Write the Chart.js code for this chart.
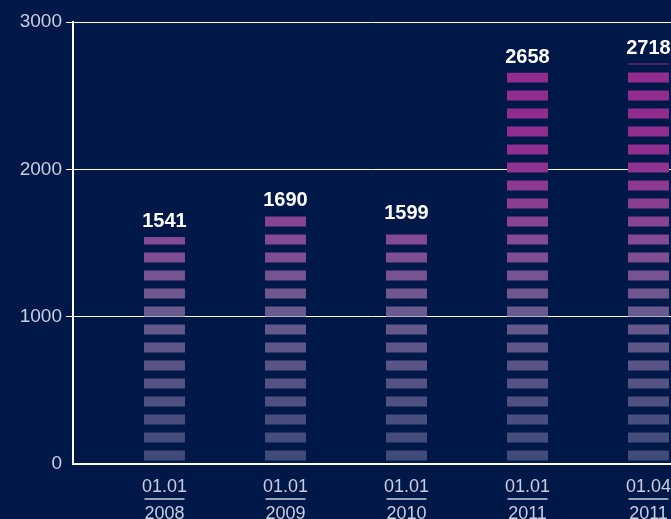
<!DOCTYPE html>
<html>
<head>
<meta charset="utf-8">
<script src="https://cdn.jsdelivr.net/npm/chart.js@4/dist/chart.umd.min.js"></script>
<style>
  html, body { margin: 0; padding: 0; background: #001848; overflow: hidden; }
  #wrap { width: 671px; height: 519px; }
</style>
</head>
<body>
<div id="wrap"><canvas id="chart" width="671" height="519"></canvas></div>
<script>
// data
const dates = ['01.01', '01.01', '01.01', '01.01', '01.04'];
const years = ['2008', '2009', '2010', '2011', '2011'];
const values = [1541, 1690, 1599, 2658, 2718];
const yTicks = [0, 1000, 2000, 3000];

const labelColor = '#c8cee0';

// striped bars, gradient by height
const stripes = {
    id: 'stripes',
    afterDatasetsDraw(chart) {
        const ctx = chart.ctx;
        const area = chart.chartArea;
        const grad = ctx.createLinearGradient(0, area.bottom, 0, area.top);
        grad.addColorStop(0, '#3d4a78');
        grad.addColorStop(0.35, '#6a5a8e');
        grad.addColorStop(0.5, '#844b94');
        grad.addColorStop(0.7, '#912e8f');
        grad.addColorStop(1, '#932a8e');
        chart.getDatasetMeta(0).data.forEach(bar => {
            const w = bar.width;
            const left = bar.x - w / 2;
            ctx.save();
            ctx.beginPath();
            ctx.rect(left, bar.y, w, bar.base - bar.y);
            ctx.clip();
            ctx.fillStyle = grad;
            for (let b = bar.base - 3; b > bar.y; b -= 18) {
                ctx.fillRect(left, b - 10, w, 10);
            }
            ctx.restore();
        });
    }
};

// value labels above bars + two-line x labels
const labels = {
    id: 'labels',
    afterDraw(chart) {
        const ctx = chart.ctx;
        const meta = chart.getDatasetMeta(0);
        ctx.save();
        ctx.textAlign = 'center';
        ctx.font = 'bold 20px "Liberation Sans", Arial, sans-serif';
        ctx.fillStyle = '#ffffff';
        ctx.textBaseline = 'bottom';
        meta.data.forEach((bar, i) => {
            ctx.fillText(values[i], bar.x, bar.y - 5);
        });
        ctx.font = '18px "Liberation Sans", Arial, sans-serif';
        ctx.fillStyle = labelColor;
        ctx.strokeStyle = labelColor;
        ctx.lineWidth = 1.5;
        ctx.textBaseline = 'middle';
        meta.data.forEach((bar, i) => {
            ctx.fillText(dates[i], bar.x, 487);
            ctx.beginPath();
            ctx.moveTo(bar.x - 20, 499);
            ctx.lineTo(bar.x + 20, 499);
            ctx.stroke();
            ctx.fillText(years[i], bar.x, 514);
        });
        ctx.restore();
    }
};

new Chart(document.getElementById('chart'), {
    type: 'bar',
    data: {
        datasets: [{
            data: values.map((v, i) => ({ x: i, y: v })),
            backgroundColor: 'rgba(0,0,0,0)',
            barThickness: 41
        }]
    },
    options: {
        responsive: false,
        animation: false,
        layout: { padding: { top: 22, bottom: 55, left: 0, right: 0 } },
        plugins: { legend: { display: false }, tooltip: { enabled: false } },
        scales: {
            x: {
                type: 'linear',
                offset: false,
                min: -0.756,
                max: 4.186,
                grid: { display: false, drawTicks: false },
                border: { color: '#ffffff', width: 2 },
                ticks: { display: false },
                afterFit(s) { s.height = 0; }
            },
            y: {
                min: 0,
                max: 3000,
                afterBuildTicks(s) { s.ticks = yTicks.map(v => ({ value: v })); },
                ticks: {
                    color: labelColor,
                    font: { size: 19, family: '"Liberation Sans", Arial, sans-serif' },
                    padding: 4,
                    callback: v => String(v)
                },
                grid: {
                    color: '#ffffff',
                    lineWidth: 1,
                    tickLength: 7,
                    tickColor: c => c.tick && c.tick.value === 0 ? 'rgba(0,0,0,0)' : '#ffffff'
                },
                border: { color: '#ffffff', width: 2 },
                afterFit(s) { s.width = 73; }
            }
        }
    },
    plugins: [stripes, labels]
});
</script>
</body>
</html>
